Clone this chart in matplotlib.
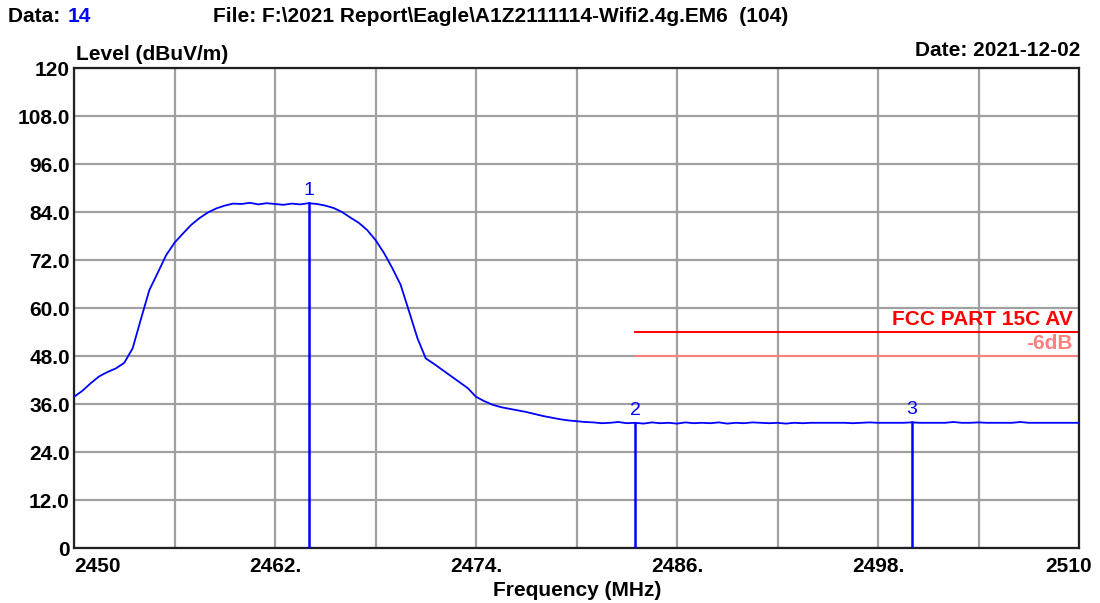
import matplotlib
matplotlib.use("Agg")
import matplotlib.pyplot as plt
import numpy as np

plt.rcParams['font.family'] = ['Liberation Sans', 'DejaVu Sans']

# ---- data ----
freq_start = 2450.0
freq_step = 0.5
level = [
    37.8, 39.3, 41.2, 42.9, 44.0, 44.9, 46.3, 49.9, 57.3, 64.5,   # 2450.0 - 2454.5
    68.8, 73.2, 76.3, 78.6, 80.8, 82.5, 83.9, 84.9, 85.6, 86.1,   # 2455.0 - 2459.5
    86.0, 86.3, 85.9, 86.2, 86.0, 85.8, 86.1, 85.9, 86.2, 86.0,   # 2460.0 - 2464.5
    85.6, 85.0, 84.0, 82.6, 81.3, 79.5, 77.0, 73.8, 70.0, 65.8,   # 2465.0 - 2469.5
    59.2, 52.5, 47.4, 46.0, 44.5, 43.0, 41.5, 40.0, 37.8, 36.7,   # 2470.0 - 2474.5
    35.8, 35.2, 34.8, 34.4, 34.0, 33.5, 33.0, 32.6, 32.2, 31.9,   # 2475.0 - 2479.5
    31.7, 31.5, 31.4, 31.2, 31.3, 31.5, 31.2, 31.3, 31.1, 31.4,   # 2480.0 - 2484.5
    31.2, 31.3, 31.1, 31.4, 31.2, 31.3, 31.2, 31.4, 31.1, 31.3,   # 2485.0 - 2489.5
    31.2, 31.4, 31.3, 31.2, 31.3, 31.1, 31.3, 31.2, 31.3, 31.3,   # 2490.0 - 2494.5
    31.3, 31.3, 31.3, 31.2, 31.3, 31.4, 31.3, 31.3, 31.3, 31.3,   # 2495.0 - 2499.5
    31.4, 31.3, 31.3, 31.3, 31.3, 31.5, 31.3, 31.3, 31.4, 31.3,   # 2500.0 - 2504.5
    31.3, 31.3, 31.3, 31.5, 31.3, 31.3, 31.3, 31.3, 31.3, 31.3,   # 2505.0 - 2509.5
    31.3,                                                         # 2510.0
]
freqs = freq_start + freq_step * np.arange(len(level))

marker_freqs = [2464.0, 2483.5, 2500.0]
marker_levels = [86.2, 31.3, 31.4]
marker_names = ["1", "2", "3"]

limit_start = 2483.5
limit_end = 2510.0
limit_av = 54.0
limit_margin = 48.0

x_ticks = [2450, 2456, 2462, 2468, 2474, 2480, 2486, 2492, 2498, 2504, 2510]
x_labels = ["2450", "", "2462.", "", "2474.", "", "2486.", "", "2498.", "", "2510"]
y_ticks = [0, 12, 24, 36, 48, 60, 72, 84, 96, 108, 120]
y_labels = ["0", "12.0", "24.0", "36.0", "48.0", "60.0", "72.0", "84.0", "96.0", "108.0", "120"]

FS = 15

# ---- figure ----
W, H = 1100, 603
fig = plt.figure(figsize=(W / 100, H / 100), dpi=100)
L, R, T, B = 74, 1079, 68, 548
ax = fig.add_axes([L / W, 1 - B / H, (R - L) / W, (B - T) / H])

ax.set_xlim(2450, 2510)
ax.set_ylim(0, 120)
ax.set_xticks(x_ticks)
ax.set_yticks(y_ticks)
ax.set_xticklabels([])
ax.set_yticklabels(y_labels, fontsize=FS, fontweight='bold')
ax.tick_params(axis='both', length=0, pad=3)
ax.grid(True, color='#a0a0a0', linewidth=1.6)
ax.set_axisbelow(True)
for s in ax.spines.values():
    s.set_linewidth(1.6)
    s.set_color('#202020')

# x tick labels manually aligned (first left, last centred slightly inside)
for xt, lab in zip(x_ticks, x_labels):
    if not lab:
        continue
    ha = 'left' if lab == "2450" else 'center'
    xx = xt - 0.6 if lab == "2510" else xt
    ax.text(xx, -2.2, lab, ha=ha, va='top', fontsize=FS, fontweight='bold',
            clip_on=False)

# trace
ax.plot(freqs, level, color='#0000ff', linewidth=1.3, zorder=3)

# limit lines
ax.plot([limit_start, limit_end], [limit_av, limit_av], color='#ff0000', linewidth=1.4, zorder=2)
ax.plot([limit_start, limit_end], [limit_margin, limit_margin], color='#ff8080', linewidth=1.4, zorder=2)
ax.text(2509.6, limit_av + 0.7, "FCC PART 15C AV", ha='right', va='bottom',
        color='#ff0000', fontsize=FS, fontweight='bold')
ax.text(2509.6, limit_margin + 0.7, "-6dB", ha='right', va='bottom',
        color='#ff8080', fontsize=FS, fontweight='bold')

# markers
for mf, ml, mn in zip(marker_freqs, marker_levels, marker_names):
    ax.plot([mf, mf], [0, ml], color='#0000ff', linewidth=1.8, zorder=4)
    ax.text(mf, ml + 1.0, mn, ha='center', va='bottom', color='#0000ff', fontsize=14)

# header texts
fig.text(8 / W, 1 - 16 / H, "Data: ", ha='left', va='center', fontsize=FS, fontweight='bold')
fig.text(68 / W, 1 - 16 / H, "14", ha='left', va='center', fontsize=FS, fontweight='bold', color='#0000ff')
fig.text(213 / W, 1 - 16 / H, "File: F:\\2021 Report\\Eagle\\A1Z2111114-Wifi2.4g.EM6  (104)",
         ha='left', va='center', fontsize=FS, fontweight='bold')
fig.text(76 / W, 1 - 54 / H, "Level (dBuV/m)", ha='left', va='center', fontsize=FS, fontweight='bold')
fig.text(1080 / W, 1 - 51 / H, "Date: 2021-12-02", ha='right', va='center', fontsize=FS, fontweight='bold')
fig.text(577 / W, 1 - 590 / H, "Frequency (MHz)", ha='center', va='center', fontsize=FS, fontweight='bold')

fig.savefig("out.png", dpi=100)
